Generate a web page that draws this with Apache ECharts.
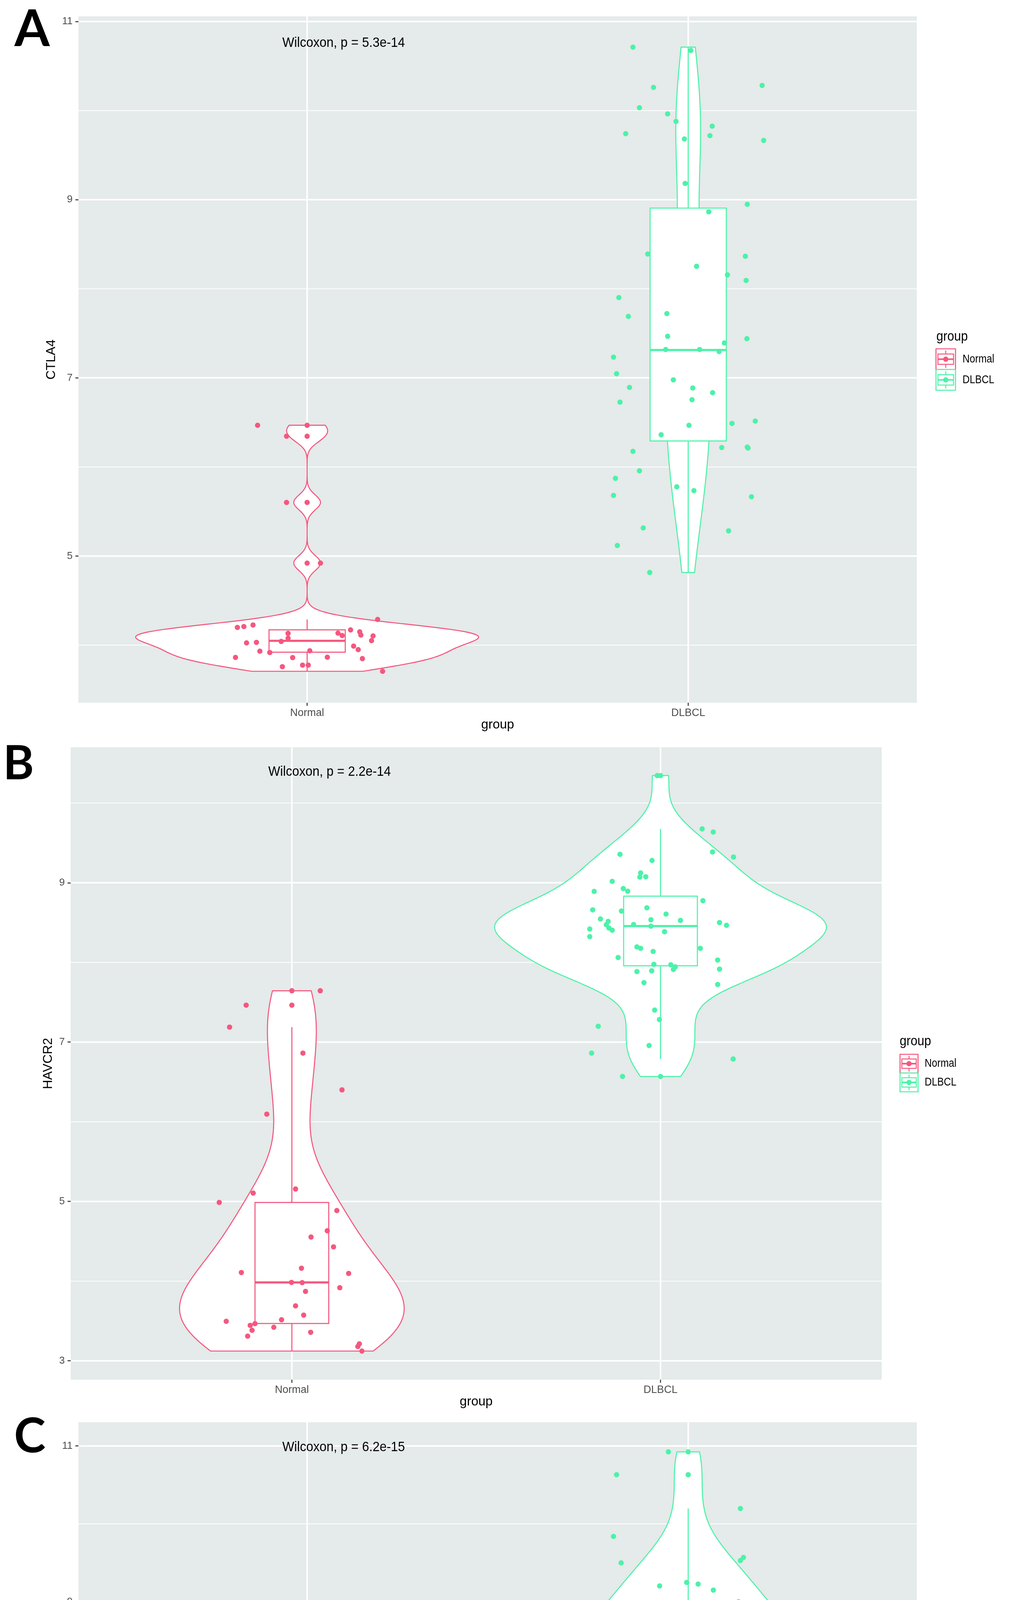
<!DOCTYPE html>
<html>
<head>
<meta charset="utf-8">
<script src="https://cdn.jsdelivr.net/npm/echarts@6/dist/echarts.min.js"></script>
<style>
html,body{margin:0;padding:0;background:#ffffff;}
#chart{width:2584px;height:5433px;}
</style>
</head>
<body>
<div id="chart"></div>
<script>
// ---------------- DATA ----------------
const categories = ['Normal', 'DLBCL'];
const genes = ['CTLA4', 'HAVCR2', 'CD274'];
const panelLetters = ['A', 'B', 'C'];
const pValueLabels = ['Wilcoxon, p = 5.3e-14', 'Wilcoxon, p = 2.2e-14', 'Wilcoxon, p = 6.2e-15'];
const yMajorTicks = [[5, 7, 9, 11], [3, 5, 7, 9], [3, 5, 7, 9, 11]];
const yMinorTicks = [[4, 6, 8, 10], [4, 6, 8, 10], [4, 6, 8, 10]];
const yRanges = [[3.353, 11.058], [2.763, 10.700], [2.807, 11.304]];

// CTLA4
const ctla4Normal = [6.468, 6.345, 5.602, 4.921, 4.288, 4.198, 4.208, 4.226, 4.132, 4.078, 4.041, 4.135, 4.107, 4.171, 4.149, 4.113, 4.103, 4.050, 4.025, 4.031, 3.989, 3.949, 3.932, 3.917, 3.936, 3.862, 3.860, 3.864, 3.848, 3.758, 3.775, 3.775, 3.706];
const ctla4NormalJitter = [-0.130, -0.054, -0.054, 0.035, 0.185, -0.183, -0.166, -0.142, -0.050, -0.050, -0.068, 0.081, 0.092, 0.114, 0.138, 0.141, 0.173, 0.169, -0.159, -0.133, 0.122, 0.134, -0.124, -0.098, 0.007, -0.188, -0.038, 0.053, 0.145, -0.065, -0.012, 0.003, 0.198];
const ctla4DLBCL = [10.713, 10.676, 10.283, 10.261, 10.033, 9.964, 9.879, 9.826, 9.741, 9.719, 9.682, 9.666, 9.183, 8.949, 8.864, 8.391, 8.365, 8.253, 8.157, 8.094, 7.902, 7.722, 7.690, 7.467, 7.440, 7.392, 7.318, 7.318, 7.296, 7.233, 7.047, 6.978, 6.893, 6.887, 6.834, 6.755, 6.728, 6.515, 6.489, 6.468, 6.361, 6.218, 6.223, 6.212, 6.175, 5.957, 5.872, 5.777, 5.734, 5.681, 5.665, 5.315, 5.283, 5.118, 4.815];
const ctla4DLBCLJitter = [-0.145, 0.007, 0.194, -0.091, -0.128, -0.054, -0.032, 0.063, -0.164, 0.057, -0.010, 0.198, -0.008, 0.155, 0.054, -0.106, 0.150, 0.022, 0.103, 0.152, -0.182, -0.056, -0.157, -0.054, 0.154, 0.095, -0.059, 0.030, 0.081, -0.196, -0.188, -0.039, -0.154, 0.012, 0.064, 0.010, -0.179, 0.176, 0.115, 0.002, -0.071, 0.088, 0.155, 0.157, -0.145, -0.128, -0.191, -0.030, 0.015, -0.196, 0.166, -0.118, 0.106, -0.186, -0.101];
const ctla4NormalBox = [3.706, 3.920, 4.048, 4.171, 4.288];
const ctla4DLBCLBox = [4.815, 6.292, 7.313, 8.906, 10.713];
const ctla4NormalOutliers = [4.921, 5.602, 6.345, 6.468];
const ctla4DLBCLOutliers = [];

// HAVCR2
const havcr2Normal = [7.644, 7.463, 7.188, 6.861, 6.400, 6.096, 5.156, 5.105, 4.987, 4.886, 4.632, 4.553, 4.430, 4.108, 4.162, 4.097, 3.984, 3.981, 3.917, 3.871, 3.690, 3.573, 3.496, 3.515, 3.466, 3.445, 3.421, 3.383, 3.310, 3.358, 3.213, 3.180, 3.122];
const havcr2NormalJitter = [0.077, -0.124, -0.169, 0.030, 0.136, -0.068, 0.010, -0.105, -0.197, 0.122, 0.096, 0.052, 0.113, -0.137, 0.026, 0.154, -0.001, 0.028, 0.130, 0.037, 0.010, 0.032, -0.178, -0.028, -0.100, -0.113, -0.049, -0.108, -0.120, 0.051, 0.183, 0.179, 0.190];
const havcr2DLBCL = [10.345, 9.675, 9.636, 9.357, 9.280, 9.386, 9.323, 9.123, 9.071, 9.075, 9.017, 8.891, 8.927, 8.893, 8.774, 8.659, 8.645, 8.685, 8.607, 8.535, 8.527, 8.545, 8.515, 8.473, 8.432, 8.404, 8.419, 8.324, 8.476, 8.455, 8.385, 8.500, 8.466, 8.195, 8.176, 8.137, 8.177, 8.061, 8.030, 7.976, 7.970, 7.945, 7.912, 7.885, 7.895, 7.916, 7.746, 7.723, 7.402, 7.283, 7.199, 6.957, 6.861, 6.788, 6.568];
const havcr2DLBCLJitter = [-0.009, 0.113, 0.143, -0.110, -0.023, 0.141, 0.198, -0.054, -0.056, -0.040, -0.131, -0.180, -0.101, -0.089, 0.115, -0.184, -0.106, -0.037, 0.015, -0.026, 0.054, -0.163, -0.142, -0.147, -0.140, -0.131, -0.192, -0.192, -0.073, -0.026, 0.011, 0.160, 0.179, -0.064, -0.054, -0.020, 0.108, -0.115, 0.155, -0.018, 0.028, 0.040, 0.035, -0.064, -0.024, 0.160, -0.045, 0.155, -0.016, -0.003, -0.169, -0.031, -0.187, 0.197, -0.103];
const havcr2NormalBox = [3.122, 3.468, 3.984, 4.987, 7.188];
const havcr2DLBCLBox = [6.788, 7.958, 8.456, 8.832, 9.675];
const havcr2NormalOutliers = [7.463, 7.644];
const havcr2DLBCLOutliers = [6.568, 10.345];

// CD274
const cd274Normal = [6.639, 5.848, 5.566, 5.531, 5.402, 5.408, 5.168, 4.834, 4.584, 4.447, 4.339, 4.246, 4.246, 4.245, 4.079, 4.036, 3.924, 3.849, 3.799, 3.819, 3.772, 3.742, 3.674, 3.655, 3.637, 3.584, 3.594, 3.537, 3.418, 3.336, 3.338, 3.187, 3.204];
const cd274NormalJitter = [0.142, -0.108, 0.193, -0.042, -0.182, -0.049, 0.128, -0.115, 0.138, 0.046, -0.054, -0.098, 0.108, 0.135, 0.159, -0.096, 0.105, -0.112, -0.024, 0.134, -0.098, 0.065, -0.042, 0.039, 0.171, 0.132, -0.105, -0.163, -0.012, -0.079, -0.027, -0.122, 0.004];
const cd274DLBCL = [10.924, 10.631, 10.197, 9.839, 9.570, 9.529, 9.499, 9.204, 9.249, 9.227, 9.150, 9.000, 8.962, 8.882, 8.778, 8.742, 8.745, 8.757, 8.688, 8.560, 8.507, 8.412, 8.373, 8.320, 8.340, 8.307, 8.278, 8.328, 8.315, 8.175, 8.140, 8.067, 8.008, 8.017, 8.008, 7.992, 7.900, 7.915, 7.876, 7.851, 7.794, 7.699, 7.585, 7.624, 7.599, 7.534, 7.546, 7.501, 7.583, 7.541, 7.184, 7.067, 6.739, 6.328, 5.982];
const cd274DLBCLJitter = [-0.052, -0.188, 0.137, -0.196, 0.145, 0.137, -0.176, -0.075, -0.004, 0.026, 0.066, 0.132, 0.061, -0.037, -0.010, -0.074, 0.030, 0.194, -0.123, -0.027, -0.199, 0.195, -0.173, -0.145, -0.099, 0.016, 0.003, 0.131, 0.179, -0.104, 0.048, -0.195, -0.167, -0.052, -0.043, -0.051, -0.134, 0.126, 0.200, -0.086, 0.069, -0.089, -0.066, 0.031, 0.060, 0.009, 0.078, 0.076, 0.159, 0.175, 0.095, 0.029, -0.095, -0.064, -0.159];
const cd274NormalBox = [3.193, 3.637, 3.924, 4.584, 5.848];
const cd274DLBCLBox = [6.328, 7.745, 8.305, 8.830, 10.197];
const cd274NormalOutliers = [6.639];
const cd274DLBCLOutliers = [5.982, 10.631, 10.924];

// ---------------- STYLE / LAYOUT ----------------
const groupColors = ['#F4587F', '#4CF2A9'];
const PANEL_BG = '#E5EAEA';
const SANS = '"Liberation Sans", Arial, sans-serif';
const LETTER_FONT = 'Lato, "Open Sans", "Liberation Sans", sans-serif';

const grids = [
  { left: 201, top: 42, width: 2147, height: 1757 },
  { left: 181, top: 1913, width: 2077, height: 1619 },
  { left: 201, top: 3641, width: 2147, height: 1695 }
];
const yNameGaps = [43, 22, 42];
const legendLayout = [
  { titleX: 2398, titleY: 862, keyX: 2397, keyW: 50, keyH: 53, keyTop: 893, labelX: 2465 },
  { titleX: 2304, titleY: 2666, keyX: 2305, keyW: 46, keyH: 48, keyTop: 2699, labelX: 2368 },
  { titleX: 2398, titleY: 4430, keyX: 2397, keyW: 50, keyH: 52, keyTop: 4462, labelX: 2465 }
];
const pLabelPos = [[723, 110], [687, 1976], [723, 3705]];
const letterPos = [[37, 76, 130], [8, 1956, 120], [36, 3679, 122]];

const panels = [
  { groups: [
    { values: ctla4Normal, jitter: ctla4NormalJitter, box: ctla4NormalBox, outliers: ctla4NormalOutliers },
    { values: ctla4DLBCL, jitter: ctla4DLBCLJitter, box: ctla4DLBCLBox, outliers: ctla4DLBCLOutliers } ] },
  { groups: [
    { values: havcr2Normal, jitter: havcr2NormalJitter, box: havcr2NormalBox, outliers: havcr2NormalOutliers },
    { values: havcr2DLBCL, jitter: havcr2DLBCLJitter, box: havcr2DLBCLBox, outliers: havcr2DLBCLOutliers } ] },
  { groups: [
    { values: cd274Normal, jitter: cd274NormalJitter, box: cd274NormalBox, outliers: cd274NormalOutliers },
    { values: cd274DLBCL, jitter: cd274DLBCLJitter, box: cd274DLBCLBox, outliers: cd274DLBCLOutliers } ] }
];

// ---------------- violin density (ggplot2 stat_ydensity, gaussian, bw.nrd0, trim) ----------------
function quantile7(sorted, p) {
  const h = (sorted.length - 1) * p, lo = Math.floor(h), hi = Math.min(lo + 1, sorted.length - 1);
  return sorted[lo] + (h - lo) * (sorted[hi] - sorted[lo]);
}
function kde(values) {
  const s = values.slice().sort((a, b) => a - b), n = s.length;
  const mean = s.reduce((a, b) => a + b, 0) / n;
  const sd = Math.sqrt(s.reduce((a, b) => a + (b - mean) * (b - mean), 0) / (n - 1));
  const iqr = quantile7(s, 0.75) - quantile7(s, 0.25);
  let lo = Math.min(sd, iqr / 1.34);
  if (!(lo > 0)) lo = sd || 1;
  const bw = 0.9 * lo * Math.pow(n, -0.2);
  const N = 512, ys = [], ds = [];
  for (let i = 0; i < N; i++) {
    const y = s[0] + (s[n - 1] - s[0]) * i / (N - 1);
    let d = 0;
    for (const v of s) { const z = (y - v) / bw; d += Math.exp(-0.5 * z * z); }
    ys.push(y); ds.push(d / (n * bw * Math.sqrt(2 * Math.PI)));
  }
  return { ys, ds };
}
panels.forEach(p => {
  const dens = p.groups.map(g => kde(g.values));
  const maxD = Math.max(...dens.map(d => Math.max(...d.ds)));
  p.groups.forEach((g, k) => {
    g.violinY = dens[k].ys;
    g.violinHW = dens[k].ds.map(d => 0.45 * d / maxD);
  });
});

// horizontally condensed text (the reference uses a narrow face)
function narrowText(str, x, y, size, squeeze, color) {
  return { type: 'text', silent: true, z: 10, x: x, y: y, scaleX: squeeze, scaleY: 1,
    style: { text: str, x: 0, y: 0, fill: color || '#000000', fontSize: size, fontFamily: SANS,
      align: 'left', verticalAlign: 'middle', textAlign: 'left', textVerticalAlign: 'middle' } };
}

// ---------------- build option ----------------
const option = { animation: false, backgroundColor: '#ffffff', grid: [], xAxis: [], yAxis: [], series: [], graphic: [] };

panels.forEach((p, i) => {
  option.grid.push(Object.assign({ show: true, backgroundColor: PANEL_BG, borderWidth: 0 }, grids[i]));
  option.xAxis.push({
    type: 'value', gridIndex: i, min: 0.4, max: 2.6,
    splitLine: { show: false }, axisLine: { show: false },
    axisTick: { show: true, customValues: [1, 2], length: 8, lineStyle: { color: '#333333', width: 2.5 } },
    axisLabel: { customValues: [1, 2], formatter: v => categories[Math.round(v) - 1], color: '#4D4D4D', fontSize: 27, fontFamily: SANS, margin: 13 },
    name: 'group', nameLocation: 'middle', nameGap: 40,
    nameTextStyle: { color: '#000000', fontSize: 33, fontFamily: SANS }
  });
  option.yAxis.push({
    type: 'value', gridIndex: i, min: yRanges[i][0], max: yRanges[i][1],
    splitLine: { show: false }, axisLine: { show: false },
    axisTick: { show: true, customValues: yMajorTicks[i], length: 8, lineStyle: { color: '#333333', width: 2.5 } },
    axisLabel: { customValues: yMajorTicks[i], color: '#4D4D4D', fontSize: 26, fontFamily: SANS, margin: 15 },
    name: genes[i], nameLocation: 'middle', nameGap: yNameGaps[i], nameRotate: 90,
    nameTextStyle: { color: '#000000', fontSize: 33, fontFamily: SANS }
  });

  // panel grid lines
  const gridData = yMajorTicks[i].map(v => [1.5, v, 0, 1])
    .concat(yMinorTicks[i].map(v => [1.5, v, 0, 0]))
    .concat([1, 2].map(v => [v, (yRanges[i][0] + yRanges[i][1]) / 2, 1, 1]));
  option.series.push({
    type: 'custom', xAxisIndex: i, yAxisIndex: i, z: 1, silent: true, clip: false,
    data: gridData,
    renderItem: (params, api) => {
      const cs = params.coordSys;
      const kind = api.value(2), major = api.value(3);
      if (kind === 0) {
        const y = api.coord([1.5, api.value(1)])[1];
        return { type: 'line', shape: { x1: cs.x, y1: y, x2: cs.x + cs.width, y2: y }, style: { stroke: '#ffffff', lineWidth: major ? 4 : 2 } };
      }
      const x = api.coord([api.value(0), api.value(1)])[0];
      return { type: 'line', shape: { x1: x, y1: cs.y, x2: x, y2: cs.y + cs.height }, style: { stroke: '#ffffff', lineWidth: 4 } };
    }
  });

  // violins
  option.series.push({
    type: 'custom', xAxisIndex: i, yAxisIndex: i, z: 2, silent: true,
    data: p.groups.map((g, k) => [k + 1, g.box[2]]),
    renderItem: (params, api) => {
      const k = params.dataIndex, g = p.groups[k], cx = k + 1;
      const left = g.violinY.map((y, j) => api.coord([cx - g.violinHW[j], y]));
      const right = g.violinY.map((y, j) => api.coord([cx + g.violinHW[j], y])).reverse();
      return { type: 'polygon', shape: { points: left.concat(right) },
        style: { fill: '#ffffff', stroke: groupColors[k], lineWidth: 2.7, lineJoin: 'round' } };
    }
  });

  // boxplots
  option.series.push({
    type: 'custom', xAxisIndex: i, yAxisIndex: i, z: 3, silent: true,
    data: p.groups.map((g, k) => [k + 1].concat(g.box)),
    encode: { x: 0, y: [1, 2, 3, 4, 5] },
    renderItem: (params, api) => {
      const k = params.dataIndex, x = api.value(0);
      const lw = api.value(1), q1 = api.value(2), md = api.value(3), q3 = api.value(4), uw = api.value(5);
      const c = groupColors[k];
      const tl = api.coord([x - 0.1, q3]), br = api.coord([x + 0.1, q1]);
      const mL = api.coord([x - 0.1, md]), mR = api.coord([x + 0.1, md]);
      const cU = api.coord([x, q3]), cUW = api.coord([x, uw]), cL = api.coord([x, q1]), cLW = api.coord([x, lw]);
      return { type: 'group', children: [
        { type: 'line', shape: { x1: cU[0], y1: cU[1], x2: cUW[0], y2: cUW[1] }, style: { stroke: c, lineWidth: 2.7 } },
        { type: 'line', shape: { x1: cL[0], y1: cL[1], x2: cLW[0], y2: cLW[1] }, style: { stroke: c, lineWidth: 2.7 } },
        { type: 'rect', shape: { x: tl[0], y: tl[1], width: br[0] - tl[0], height: br[1] - tl[1] }, style: { fill: '#ffffff', stroke: c, lineWidth: 2.7 } },
        { type: 'line', shape: { x1: mL[0], y1: mL[1], x2: mR[0], y2: mR[1] }, style: { stroke: c, lineWidth: 5.4 } }
      ] };
    }
  });

  // outliers and jittered points
  p.groups.forEach((g, k) => {
    option.series.push({
      type: 'scatter', xAxisIndex: i, yAxisIndex: i, z: 4, silent: true,
      symbol: 'circle', symbolSize: 13.5, itemStyle: { color: groupColors[k], opacity: 1 },
      data: g.outliers.map(v => [k + 1, v])
    });
    option.series.push({
      type: 'scatter', xAxisIndex: i, yAxisIndex: i, z: 5, silent: true,
      symbol: 'circle', symbolSize: 13.5, itemStyle: { color: groupColors[k], opacity: 1 },
      data: g.values.map((v, j) => [k + 1 + g.jitter[j], v])
    });
  });

  // p-value label
  option.graphic.push(narrowText(pValueLabels[i], pLabelPos[i][0], pLabelPos[i][1], 35, 0.925));

  // panel letter
  option.graphic.push({ type: 'text', silent: true, z: 10,
    style: { text: panelLetters[i], x: letterPos[i][0], y: letterPos[i][1], fill: '#000000',
      fontSize: letterPos[i][2], fontWeight: 'bold', fontFamily: LETTER_FONT, align: 'left', verticalAlign: 'middle', textAlign: 'left', textVerticalAlign: 'middle' } });

  // legend
  const L = legendLayout[i];
  option.graphic.push(narrowText('group', L.titleX, L.titleY, 35, 0.9));
  categories.forEach((cat, k) => {
    const x = L.keyX, y = L.keyTop + k * L.keyH, w = L.keyW, h = L.keyH, c = groupColors[k];
    option.graphic.push({ type: 'group', silent: true, z: 10, children: [
      { type: 'rect', shape: { x: x, y: y, width: w, height: h }, style: { fill: '#ffffff', stroke: c, lineWidth: 2.7 } },
      { type: 'line', shape: { x1: x + w / 2, y1: y + 0.08 * h, x2: x + w / 2, y2: y + 0.25 * h }, style: { stroke: c, lineWidth: 2.5 } },
      { type: 'line', shape: { x1: x + w / 2, y1: y + 0.75 * h, x2: x + w / 2, y2: y + 0.92 * h }, style: { stroke: c, lineWidth: 2.5 } },
      { type: 'rect', shape: { x: x + 0.1 * w, y: y + 0.25 * h, width: 0.8 * w, height: 0.5 * h }, style: { fill: '#ffffff', stroke: c, lineWidth: 2.5 } },
      { type: 'line', shape: { x1: x + 0.1 * w, y1: y + 0.5 * h, x2: x + 0.9 * w, y2: y + 0.5 * h }, style: { stroke: c, lineWidth: 4 } },
      { type: 'circle', shape: { cx: x + w / 2, cy: y + h / 2, r: 6.7 }, style: { fill: c } }
    ] });
    option.graphic.push(narrowText(cat, L.labelX, y + h / 2, 29, 0.87));
  });
});

const chart = echarts.init(document.getElementById('chart'), null, { renderer: 'canvas', width: 2584, height: 5433 });
chart.setOption(option);
</script>
</body>
</html>
